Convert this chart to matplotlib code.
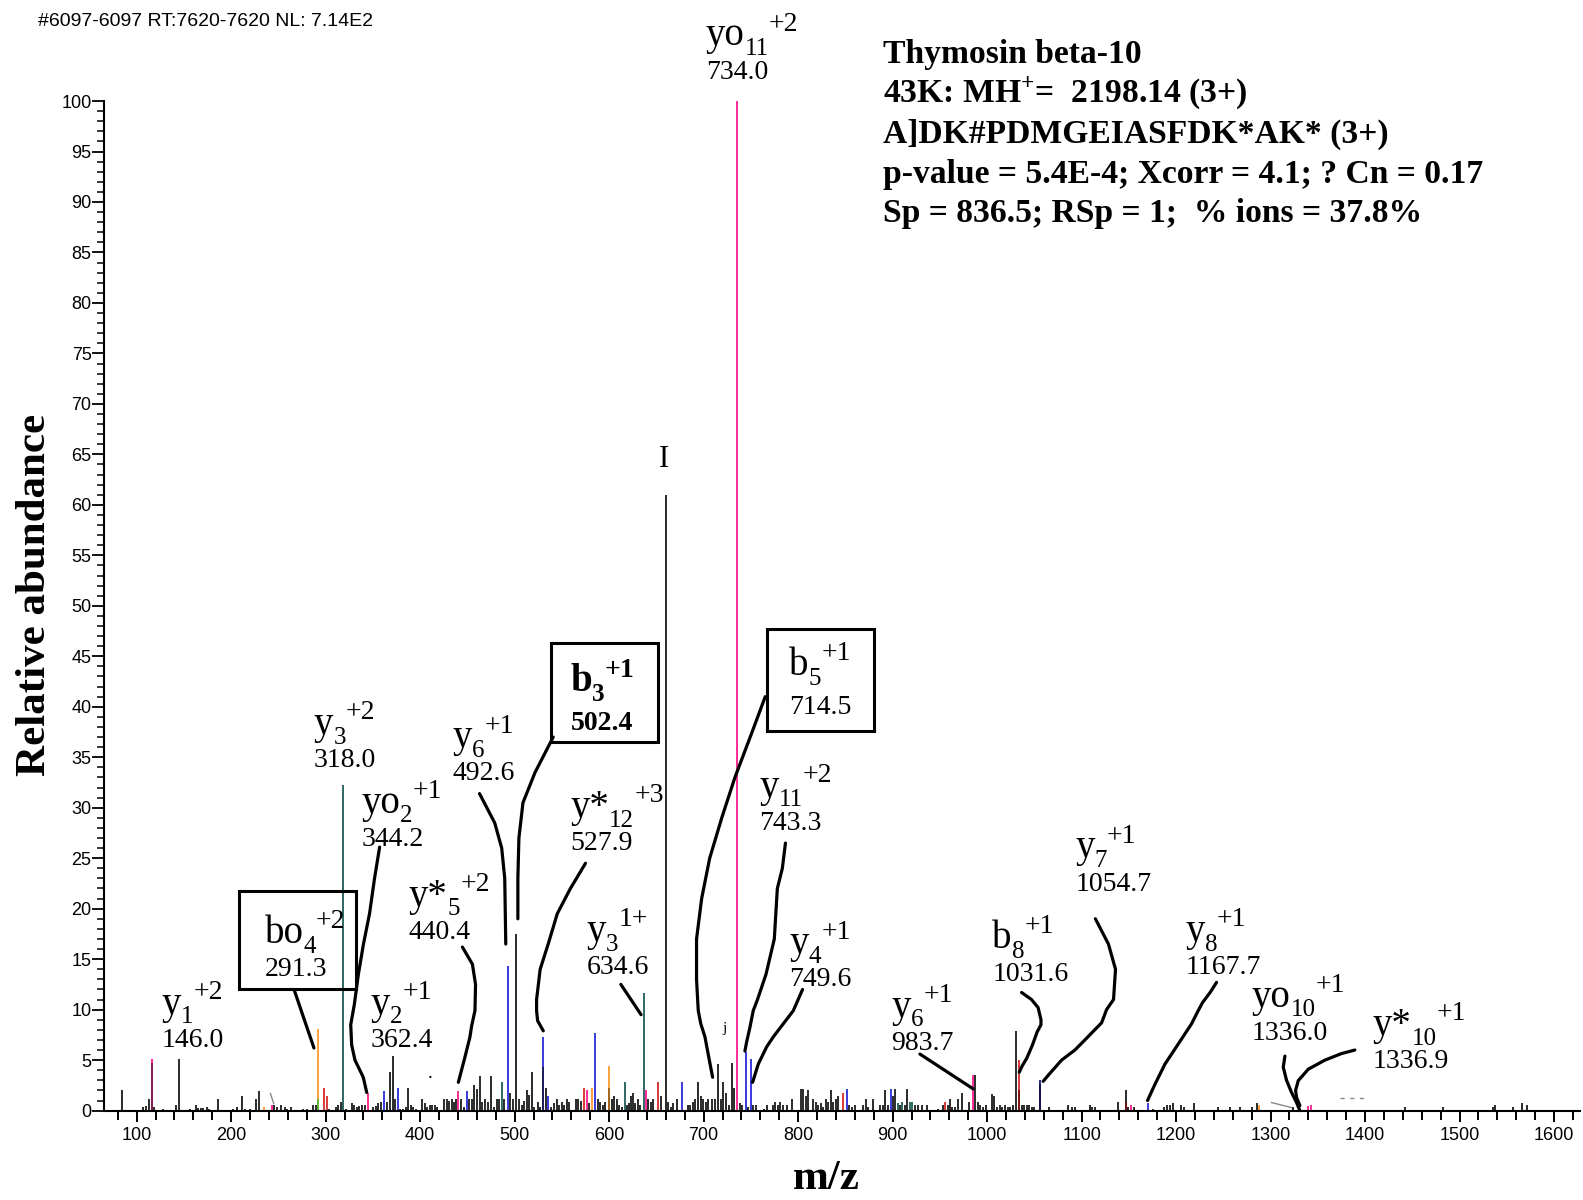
import matplotlib
matplotlib.use('Agg')
import matplotlib.pyplot as plt
from matplotlib.patches import Rectangle
from matplotlib.ticker import MultipleLocator

SERIF = 'Liberation Serif'
SANS = 'Liberation Sans'

plt.rcParams['font.family'] = SANS
plt.rcParams['mathtext.fontset'] = 'custom'
plt.rcParams['mathtext.rm'] = SERIF
plt.rcParams['mathtext.bf'] = SERIF + ':bold'

# spectrum peaks as (m/z, relative abundance), grouped by colour
black_peaks = [
    (84.1, 2.0), (101.7, 0.1), (107.0, 0.33), (109.8, 0.5), (113.0, 1.15), (118.3, 0.4),
    (128.2, 0.15), (141.6, 0.6), (144.8, 5.1), (156.4, 0.13), (162.4, 0.6), (165.2, 0.23),
    (167.7, 0.23), (170.5, 0.23), (174.0, 0.33), (176.5, 0.17), (185.7, 1.15), (202.3, 0.13),
    (205.8, 0.33), (211.8, 1.4), (214.6, 0.17), (219.9, 0.13), (225.9, 1.15), (229.1, 1.9),
    (245.6, 0.56), (248.1, 0.4), (252.3, 0.56), (257.0, 0.33), (259.4, 0.17), (263.3, 0.33),
    (275.6, 0.13), (279.9, 0.17), (287.0, 0.6), (289.4, 0.6), (303.9, 0.17), (310.6, 0.33),
    (313.4, 0.6), (315.8, 0.9), (321.5, 0.13), (327.5, 0.8), (330.3, 0.56), (332.8, 0.33),
    (335.6, 0.43), (338.8, 0.56), (341.6, 0.56), (350.4, 0.33), (352.9, 0.5), (355.7, 0.73),
    (358.5, 0.9), (364.5, 0.9), (368.0, 3.8), (370.9, 5.45), (373.3, 1.15), (378.6, 0.13),
    (382.2, 0.17), (384.6, 0.33), (387.4, 2.25), (390.3, 0.6), (392.7, 0.33), (395.6, 0.17),
    (402.3, 1.15), (405.1, 0.8), (407.5, 0.33), (410.0, 0.56), (412.8, 0.56), (415.7, 0.56),
    (417.8, 0.33), (425.5, 1.15), (428.0, 1.15), (430.8, 1.0), (433.3, 1.15), (436.1, 0.9),
    (438.2, 1.15), (443.2, 1.15), (446.4, 0.33), (451.6, 1.15), (454.5, 1.15), (457.3, 2.5),
    (459.8, 2.15), (462.9, 3.4), (465.8, 0.9), (468.6, 1.15), (471.4, 0.9), (474.9, 3.4),
    (477.7, 0.33), (480.9, 1.15), (483.7, 1.15), (489.0, 1.15), (495.0, 1.7), (497.8, 1.15),
    (501.0, 17.5), (504.5, 1.15), (507.4, 0.56), (509.8, 1.0), (512.7, 2.0), (515.5, 1.5),
    (518.0, 3.85), (520.8, 0.33), (524.3, 0.9), (526.8, 0.33), (532.8, 2.25), (538.4, 0.33),
    (541.2, 0.8), (544.4, 1.15), (546.9, 0.56), (549.7, 0.9), (552.5, 0.56), (555.7, 1.15),
    (557.8, 0.9), (564.5, 1.15), (567.3, 1.15), (569.8, 1.0), (579.0, 0.8), (587.8, 1.15),
    (590.3, 0.9), (593.1, 0.56), (595.6, 0.9), (602.6, 1.15), (605.1, 1.4), (607.9, 1.15),
    (610.4, 0.56), (613.2, 0.33), (619.2, 0.56), (621.0, 0.8), (623.1, 1.4), (625.5, 1.7),
    (627.7, 0.8), (630.1, 1.15), (632.6, 0.56), (641.4, 1.15), (643.9, 0.9), (646.4, 1.15),
    (654.5, 1.4), (659.8, 61.0), (662.6, 0.9), (665.0, 0.33), (667.9, 0.8), (671.4, 1.15),
    (683.0, 0.56), (685.5, 0.56), (688.3, 0.9), (690.8, 1.15), (694.3, 2.8), (697.1, 1.4),
    (699.6, 1.15), (702.1, 0.9), (704.9, 1.15), (708.4, 1.15), (712.0, 1.15), (714.8, 4.6),
    (718.0, 1.15), (720.8, 2.8), (723.6, 1.7), (726.4, 0.56), (729.6, 4.7), (732.4, 2.25),
    (738.4, 0.8), (740.9, 0.56), (747.2, 0.33), (752.5, 0.56), (755.4, 0.56), (761.4, 0.1),
    (764.2, 0.17), (766.6, 0.56), (769.5, 0.1), (773.0, 0.56), (775.5, 0.9), (778.3, 0.56),
    (780.8, 0.9), (783.6, 0.56), (787.8, 0.56), (793.1, 1.15), (802.6, 2.15), (805.4, 2.15),
    (807.9, 1.4), (810.0, 2.0), (816.0, 1.15), (818.5, 0.9), (821.3, 0.56), (823.8, 0.8),
    (826.6, 0.33), (829.4, 1.15), (831.9, 0.9), (834.7, 2.0), (837.2, 0.9), (840.0, 1.15),
    (842.5, 1.4), (854.1, 0.56), (856.9, 0.33), (860.1, 0.56), (865.4, 0.1), (868.9, 0.56),
    (871.4, 1.15), (874.2, 0.33), (879.5, 1.15), (886.6, 0.56), (889.4, 0.56), (891.9, 2.0),
    (894.7, 0.56), (900.0, 1.4), (902.8, 2.15), (907.7, 0.56), (913.0, 0.56), (915.1, 2.15),
    (923.6, 0.56), (927.1, 0.56), (930.7, 0.56), (936.0, 0.56), (944.8, 0.1), (948.3, 0.17),
    (952.9, 0.56), (958.2, 0.56), (960.6, 1.15), (963.1, 0.33), (966.0, 0.33), (968.8, 1.15),
    (973.0, 1.7), (975.8, 0.1), (981.1, 0.9), (987.1, 3.55), (989.9, 0.9), (992.4, 0.56),
    (995.2, 0.33), (998.4, 0.56), (1004.8, 1.65), (1007.6, 1.4), (1010.4, 0.33), (1013.6, 0.56),
    (1016.0, 0.33), (1018.9, 0.56), (1021.7, 0.33), (1024.2, 0.33), (1027.0, 0.56), (1030.5, 7.9),
    (1036.5, 0.56), (1039.3, 0.56), (1041.8, 0.56), (1044.6, 0.56), (1047.1, 0.33), (1049.9, 0.33),
    (1052.4, 0.1), (1060.1, 0.1), (1065.8, 0.33), (1071.8, 0.1), (1085.9, 0.56), (1089.4, 0.33),
    (1092.9, 0.33), (1098.2, 0.1), (1101.8, 0.1), (1108.8, 0.56), (1111.3, 0.33), (1114.1, 0.33),
    (1138.1, 0.9), (1146.6, 2.0), (1149.4, 0.33), (1155.0, 0.33), (1157.5, 0.1), (1173.0, 0.1),
    (1175.8, 0.17), (1181.1, 0.1), (1187.1, 0.33), (1189.9, 0.56), (1193.5, 0.56), (1196.3, 0.8),
    (1205.1, 0.56), (1208.6, 0.33), (1211.1, 0.1), (1218.9, 0.8), (1224.5, 0.1), (1233.3, 0.1),
    (1244.6, 0.33), (1249.9, 0.1), (1257.0, 0.33), (1267.5, 0.33), (1279.9, 0.33), (1285.2, 0.8),
    (1297.5, 0.1), (1300.4, 0.1), (1324.0, 0.33), (1327.5, 0.1), (1348.7, 0.1), (1351.5, 0.1),
    (1354.0, 0.1), (1371.6, 0.1), (1412.9, 0.1), (1419.2, 0.1), (1429.8, 0.1), (1442.1, 0.33),
    (1466.8, 0.1), (1482.7, 0.33), (1523.3, 0.1), (1534.9, 0.33), (1537.4, 0.56), (1539.9, 0.1),
    (1556.8, 0.33), (1565.6, 0.8), (1570.9, 0.56), (1615.0, 0.1),
]
blue_peaks = [(361.7, 1.9), (376.2, 2.25), (449.2, 1.9), (492.6, 14.3), (529.6, 7.3), (535.6, 1.4),
              (585.0, 7.65), (677.4, 2.8), (744.4, 5.8), (750.1, 5.1), (851.3, 2.15), (897.9, 2.15),
              (1169.8, 0.8)]
navy_peaks = [(1055.9, 3.0)]
magenta_peaks = [(115.8, 5.1), (243.5, 0.6), (344.4, 1.7), (440.4, 1.9), (576.2, 2.0), (639.3, 2.0),
                 (735.0, 100.0), (984.6, 3.55), (1152.2, 0.56), (1339.9, 0.5), (1342.3, 0.56)]
teal_peaks = [(318.7, 32.3), (486.2, 2.8), (616.4, 2.8), (636.5, 11.6), (905.3, 0.8), (910.2, 0.9),
              (918.3, 0.9), (920.8, 0.9)]
orange_peaks = [(234.7, 0.33), (292.2, 8.1), (581.8, 2.25), (599.4, 4.4), (1198.8, 0.1), (1288.0, 0.56)]
red_peaks = [(298.2, 2.25), (301.0, 1.4), (573.0, 2.25), (651.3, 2.8), (847.8, 1.7), (955.4, 0.9),
             (1034.0, 5.0)]
green_peaks = [(1119.4, 0.1)]
# darker lower part of some two-tone peaks
lower_parts = [(115.8, 4.7, '#7a1d4a'), (292.2, 1.15, '#52b82c'), (529.6, 4.3, '#1c1c52'),
               (599.4, 2.25, '#a0601c'), (1034.0, 2.0, '#7a1010'), (1055.9, 2.6, '#10104a'),
               (1146.6, 0.9, '#7a1010')]

peak_groups = [
    (black_peaks, '#1a1a1a'), (blue_peaks, '#2b2bd6'), (navy_peaks, '#1a1a80'),
    (magenta_peaks, '#ff1a8c'), (teal_peaks, '#1f5e55'), (orange_peaks, '#ff9a2e'),
    (red_peaks, '#d42a2a'), (green_peaks, '#4cc030'),
]

# fragment ion annotations: left x, number baseline, ion, subscript, superscript, m/z text, bold
ion_labels = [
    (702.2, 102.2, 'yo', '11', '+2', '734.0', False),
    (287.6, 34.0, 'y', '3', '+2', '318.0', False),
    (337.8, 26.2, 'yo', '2', '+1', '344.2', False),
    (235.3, 13.3, 'bo', '4', '+2', '291.3', False),
    (126.3, 6.3, 'y', '1', '+2', '146.0', False),
    (347.4, 6.3, 'y', '2', '+1', '362.4', False),
    (388.0, 17.0, 'y*', '5', '+2', '440.4', False),
    (434.0, 32.7, 'y', '6', '+1', '492.6', False),
    (559.0, 37.7, 'b', '3', '+1', '502.4', True),
    (559.0, 25.8, 'y*', '12', '+3', '527.9', False),
    (576.1, 13.5, 'y', '3', '1+', '634.6', False),
    (790.8, 39.3, 'b', '5', '+1', '714.5', False),
    (758.8, 27.8, 'y', '11', '+2', '743.3', False),
    (790.8, 12.3, 'y', '4', '+1', '749.6', False),
    (898.7, 6.0, 'y', '6', '+1', '983.7', False),
    (1005.6, 12.8, 'b', '8', '+1', '1031.6', False),
    (1093.2, 21.8, 'y', '7', '+1', '1054.7', False),
    (1209.6, 13.5, 'y', '8', '+1', '1167.7', False),
    (1280.2, 7.0, 'yo', '10', '+1', '1336.0', False),
    (1408.4, 4.2, 'y*', '10', '+1', '1336.9', False),
]

# label boxes: x0, x1, y0, y1 (data units)
boxes = [(208.5, 332.5, 12.0, 21.8), (538.7, 651.9, 36.5, 46.3), (767.3, 880.6, 37.6, 47.7)]

# hand drawn leader lines from labels to peaks
leaders = [
    [(266.5, 12.0), (287.6, 6.2)],
    [(357.1, 26.1), (351.7, 23.0), (346.4, 19.5), (340.0, 16.5), (334.6, 13.5), (330.3, 10.5),
     (326.5, 8.5), (327.5, 6.5), (331.0, 5.0), (339.8, 3.3), (343.4, 1.8)],
    [(444.7, 16.2), (455.3, 14.5), (458.6, 12.5), (458.0, 9.9), (454.5, 8.4), (452.7, 7.3),
     (447.4, 5.3), (440.4, 2.8)],
    [(462.8, 31.4), (478.9, 28.5), (486.3, 26.0), (489.5, 23.0), (490.6, 16.5)],
    [(540.8, 37.0), (521.6, 33.5), (508.8, 30.5), (504.5, 27.0), (503.4, 23.0), (503.4, 19.0)],
    [(575.0, 24.5), (559.0, 22.0), (545.1, 19.5), (535.5, 16.5), (527.0, 14.0), (523.2, 11.0),
     (523.2, 9.9), (524.3, 8.9), (530.3, 7.9)],
    [(612.4, 12.5), (633.8, 9.5)],
    [(765.2, 41.0), (751.3, 37.5), (733.1, 33.0), (719.2, 29.0), (706.4, 25.0), (697.9, 21.0),
     (692.5, 17.0), (692.5, 13.0), (694.3, 9.9), (697.0, 8.6), (701.4, 7.3), (705.0, 5.5),
     (709.5, 3.3)],
    [(786.6, 26.5), (783.3, 24.0), (778.0, 22.0), (774.8, 17.0), (766.0, 13.5), (757.0, 11.0),
     (752.5, 9.9), (749.0, 8.25), (745.5, 6.8), (743.7, 5.9)],
    [(804.7, 12.0), (794.9, 9.9), (784.3, 8.6), (773.7, 7.3), (766.6, 6.3), (757.8, 4.6),
     (751.8, 2.8)],
    [(928.9, 5.6), (985.3, 2.15)],
    [(1036.5, 11.7), (1047.0, 11.0), (1054.0, 10.2), (1057.0, 9.0), (1057.0, 8.5), (1053.0, 7.8),
     (1048.0, 6.5), (1042.0, 5.2), (1037.0, 4.4), (1034.0, 3.8)],
    [(1114.6, 19.0), (1128.4, 16.5), (1135.9, 14.0), (1133.8, 11.0), (1126.4, 10.0), (1121.2, 8.7),
     (1103.5, 7.0), (1092.9, 6.0), (1078.8, 5.0), (1064.7, 3.5), (1059.3, 2.9)],
    [(1242.8, 12.7), (1236.0, 11.7), (1228.0, 10.7), (1223.4, 9.9), (1216.4, 8.6), (1202.3, 6.6),
     (1188.2, 4.6), (1177.6, 2.6), (1169.8, 1.0)],
    [(1315.2, 5.4), (1313.4, 4.3), (1316.9, 3.0), (1322.2, 1.8), (1327.5, 0.8), (1331.0, 0.0)],
    [(1389.2, 6.0), (1375.1, 5.65), (1357.5, 5.0), (1339.9, 4.1), (1329.3, 2.97), (1326.5, 2.0),
     (1327.5, 1.3), (1331.0, 0.5)],
]

header_lines = [
    'Thymosin beta-10',
    '43K: MH$^{\\mathbf{+}}$=  2198.14 (3+)',
    'A]DK#PDMGEIASFDK*AK* (3+)',
    'p-value = 5.4E-4; Xcorr = 4.1; ? Cn = 0.17',
    'Sp = 836.5; RSp = 1;  % ions = 37.8%',
]
header_baselines = [62.6, 103.0, 142.4, 182.7, 222.0]

fig = plt.figure(figsize=(15.83, 12), dpi=100)
ax = fig.add_axes([0.0657, 0.0745, 0.9323, 0.8413])

for peaks, col in peak_groups:
    mz = [p[0] for p in peaks]
    ab = [p[1] for p in peaks]
    ax.vlines(mz, 0, ab, colors=col, lw=1.3, zorder=2)
for mz, ab, col in lower_parts:
    ax.vlines(mz, 0, ab, colors=col, lw=1.3, zorder=2.1)

ax.set_xlim(65.4, 1627.3)
ax.set_ylim(0, 100)
ax.xaxis.set_minor_locator(MultipleLocator(20))
ax.yaxis.set_major_locator(MultipleLocator(5))
ax.yaxis.set_minor_locator(MultipleLocator(1))
ax.set_xticks(range(100, 1700, 100))
ax.tick_params(axis='x', which='major', direction='out', length=8, width=1.4, labelsize=13, pad=4)
ax.tick_params(axis='x', which='minor', direction='out', length=6.5, width=1.4)
ax.tick_params(axis='y', which='major', direction='out', length=8.5, width=1.3, labelsize=13, pad=0.5)
ax.tick_params(axis='y', which='minor', direction='out', length=5, width=1.1)
for side in ('top', 'right'):
    ax.spines[side].set_visible(False)
for side in ('left', 'bottom'):
    ax.spines[side].set_linewidth(1.5)

renderer = fig.canvas.get_renderer()


def ion_label(x, y, base, sub, sup, num, bold):
    weight = 'bold' if bold else 'normal'
    rise = 28 if bold or base == 'b' and sub == '5' else 24
    kw = dict(xycoords='data', textcoords='offset points', ha='left', va='baseline',
              family=SERIF, fontweight=weight, annotation_clip=False, zorder=5)
    ax.annotate(num, (x, y), xytext=(0, 0), fontsize=20, **kw)
    t = ax.annotate(base, (x, y), xytext=(0, rise), fontsize=28, **kw)
    wb = t.get_window_extent(renderer).width * 72 / fig.dpi
    s = ax.annotate(sub, (x, y), xytext=(wb, rise - 7), fontsize=18, **kw)
    ws = s.get_window_extent(renderer).width * 72 / fig.dpi
    ax.annotate(sup, (x, y), xytext=(wb + ws, rise + 10.5), fontsize=20, **kw)


for lab in ion_labels:
    ion_label(*lab)

for x0, x1, y0, y1 in boxes:
    ax.add_patch(Rectangle((x0, y0), x1 - x0, y1 - y0, fill=False, lw=2.2, ec='black',
                           clip_on=False, zorder=4))

for path in leaders:
    ax.plot([p[0] for p in path], [p[1] for p in path], color='black', lw=2.3,
            solid_capstyle='round', solid_joinstyle='round', clip_on=False, zorder=4)

ax.text(658.3, 64.5, 'I', family=SERIF, fontsize=22, ha='center', va='center')
ax.text(410.5, 3.2, '.', family=SERIF, fontsize=14, ha='center', va='baseline')
ax.text(722.4, 7.8, 'j', family=SERIF, fontsize=11, ha='center', va='baseline')
ax.plot([241.5, 245.0], [1.7, 0.7], color='#888888', lw=1)
ax.plot([1301.0, 1322.0], [0.8, 0.3], color='#888888', lw=1)
ax.plot([1373.0, 1401.0], [1.2, 1.2], color='#888888', lw=1, ls=(0, (3, 4)))

fig.text(38 / 1583, 1 - 26 / 1200, '#6097-6097 RT:7620-7620 NL: 7.14E2', fontsize=14,
         family=SANS, va='baseline')
for line, b in zip(header_lines, header_baselines):
    fig.text(883 / 1583, 1 - b / 1200, line, fontsize=24.2, family=SERIF, fontweight='bold',
             va='baseline')

fig.text(35 / 1583, 0.504, 'Relative abundance', rotation=90, fontsize=31, family=SERIF,
         fontweight='bold', ha='center', va='center')
fig.text(826 / 1583, 0.0175, 'm/z', fontsize=31, family=SERIF, fontweight='bold',
         ha='center', va='center')

fig.savefig('out.png', dpi=100)
